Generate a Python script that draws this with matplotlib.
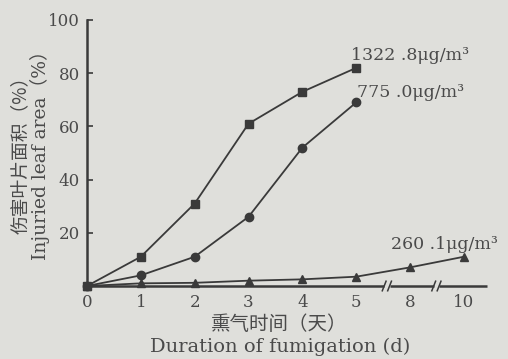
import matplotlib
matplotlib.use("Agg")
import matplotlib.pyplot as plt

# Data
x_labels = ["0", "1", "2", "3", "4", "5", "8", "10"]
sq_vals = [0, 11, 31, 61, 73, 82]          # 1322.8 ug/m3, days 0-5
ci_vals = [0, 4, 11, 26, 52, 69]           # 775.0 ug/m3, days 0-5
tr_vals = [0, 1, 1.2, 2, 2.5, 3.5, 7, 11]  # 260.1 ug/m3, days 0-10
y_ticks = [20, 40, 60, 80, 100]
series_labels = ["1322 .8μg/m³", "775 .0μg/m³", "260 .1μg/m³"]

bg = "#dfdfdb"
ink = "#3a3a3a"
txt = "#4a4a4a"

serif = ["DejaVu Serif", "Noto Sans CJK SC"]
cjk = ["Noto Sans CJK SC", "DejaVu Sans"]

fig = plt.figure(figsize=(5.08, 3.59), dpi=100, facecolor=bg)
ax = fig.add_axes([87/508, 1-286/359, 400/508, 266/359])
ax.set_facecolor(bg)

xi = list(range(len(x_labels)))
ax.plot(xi[:len(sq_vals)], sq_vals, color=ink, lw=1.3, marker="s", ms=6, mfc=ink, mec=ink, clip_on=False)
ax.plot(xi[:len(ci_vals)], ci_vals, color=ink, lw=1.3, marker="o", ms=6, mfc=ink, mec=ink, clip_on=False)
ax.plot(xi[:len(tr_vals)], tr_vals, color=ink, lw=1.3, marker="^", ms=6, mfc=ink, mec=ink, clip_on=False)

xmax = 7.43
ax.set_xlim(0, xmax)
ax.set_ylim(0, 100)

for s in ["top", "right", "bottom"]:
    ax.spines[s].set_visible(False)
ax.spines["left"].set_color(ink)
ax.spines["left"].set_linewidth(1.8)

# broken x-axis
b1a, b1b = 5.52, 5.62
b2a, b2b = 6.44, 6.54
for a, b in [(0, b1a), (b1b, b2a), (b2b, xmax)]:
    ax.plot([a, b], [0, 0], color=ink, lw=1.8, clip_on=False, solid_capstyle="butt")
for xb in [b1a, b1b, b2a, b2b]:
    ax.plot([xb - 0.035, xb + 0.035], [-1.8, 1.8], color=ink, lw=1.1, clip_on=False)

ax.set_yticks(y_ticks)
ax.set_yticklabels([str(v) for v in y_ticks], family=serif, fontsize=12, color=txt)
ax.tick_params(axis="y", direction="in", length=4, width=1.2, color=ink, pad=5)
ax.set_xticks(xi)
ax.set_xticklabels(x_labels, family=serif, fontsize=12, color=txt)
ax.tick_params(axis="x", length=0, pad=6)

ax.text(4.9, 83.5, series_labels[0], family=serif, fontsize=12.5, color=txt, ha="left", va="bottom")
ax.text(5.02, 69.5, series_labels[1], family=serif, fontsize=12.5, color=txt, ha="left", va="bottom")
ax.text(5.65, 12.5, series_labels[2], family=serif, fontsize=12.5, color=txt, ha="left", va="bottom")

fig.text(20/508, 1-150/359, "伤害叶片面积（%）", family=cjk, fontsize=13.5, color=txt,
         rotation=90, ha="center", va="center")
fig.text(40/508, 1-151/359, "Injuried leaf area（%）", family=serif, fontsize=13.5, color=txt,
         rotation=90, ha="center", va="center")
fig.text(279/508, 1-325/359, "熏气时间（天）", family=cjk, fontsize=14, color=txt,
         ha="center", va="center")
fig.text(280/508, 1-347/359, "Duration of fumigation (d)", family=serif, fontsize=14, color=txt,
         ha="center", va="center")

fig.savefig("out.png", dpi=100, facecolor=bg)
